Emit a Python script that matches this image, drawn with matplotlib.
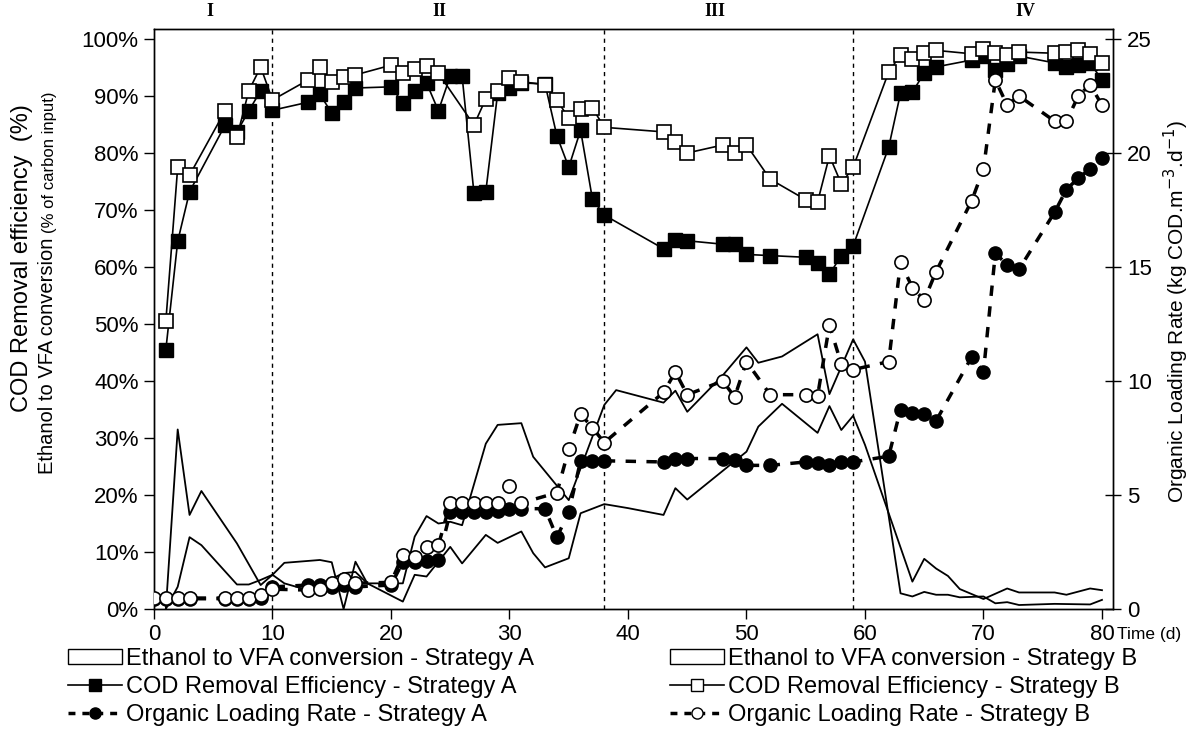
import numpy as np
import matplotlib
matplotlib.use("Agg")
import matplotlib.pyplot as plt
from matplotlib.lines import Line2D
from matplotlib.patches import Rectangle
from matplotlib.ticker import PercentFormatter

plt.rcParams['font.family'] = ['Liberation Sans', 'DejaVu Sans']

# --- data ---
# COD removal efficiency (%)
cod_a_days = [1, 2, 3, 6, 7, 8, 9, 10, 13, 14, 15, 16, 17, 20, 21, 22, 23, 24, 25, 26, 27, 28, 29,
              30, 31, 33, 34, 35, 36, 37, 38, 43, 44, 45, 48, 49, 50, 52, 55, 56, 57, 58, 59,
              62, 63, 64, 65, 66, 69, 70, 71, 72, 73, 76, 77, 78, 79, 80]
cod_a = [45.5, 64.5, 73.2, 84.9, 83.7, 87.4, 90.9, 87.5, 88.9, 90.3, 87.0, 88.9, 91.4, 91.6, 88.8,
         90.9, 92.3, 87.4, 93.5, 93.5, 73.0, 73.2, 90.5, 91.4, 92.3, 92.1, 83.0, 77.5, 84.0, 71.9,
         69.1, 63.2, 64.8, 64.6, 64.0, 64.0, 62.2, 62.0, 61.7, 60.7, 58.7, 62.0, 63.7,
         81.0, 90.5, 90.7, 94.0, 95.1, 96.3, 97.0, 94.6, 95.6, 97.0, 95.8, 95.0, 95.5, 95.8, 92.8]
cod_b_days = [1, 2, 3, 6, 7, 8, 9, 10, 13, 14, 15, 16, 17, 20, 21, 22, 23, 24, 27, 28, 29,
              30, 31, 33, 34, 35, 36, 37, 38, 43, 44, 45, 48, 49, 50, 52, 55, 56, 57, 58, 59,
              62, 63, 64, 65, 66, 69, 70, 71, 72, 73, 76, 77, 78, 79, 80]
cod_b = [50.5, 77.5, 76.1, 87.4, 82.8, 90.9, 95.1, 89.3, 92.8, 95.1, 92.5, 93.4, 93.7, 95.4, 94.1,
         94.7, 95.3, 94.0, 84.9, 89.5, 90.9, 93.2, 92.5, 92.0, 89.3, 86.1, 87.7, 87.9, 84.5,
         83.7, 81.9, 80.0, 81.4, 80.0, 81.4, 75.4, 71.8, 71.4, 79.5, 74.6, 77.5,
         94.2, 97.2, 96.5, 97.5, 98.0, 97.4, 98.2, 97.5, 97.2, 97.7, 97.5, 97.8, 98.0, 97.3, 95.8]

# Ethanol to VFA conversion (% of carbon input)
eth_a_days = [1, 2, 3, 4, 7, 9, 10, 11, 14, 15, 16, 17, 18, 21, 22, 23, 24, 25, 26, 28, 29, 31,
              32, 35, 38, 39, 43, 44, 45, 48, 50, 51, 53, 56, 57, 59, 60, 63, 64, 65, 66, 67,
              68, 70, 71, 72, 73, 76, 79, 80]
eth_a = [0.0, 31.5, 16.5, 20.7, 11.5, 4.2, 6.0, 8.1, 8.6, 8.2, 0.0, 8.3, 4.5, 4.5, 12.7, 16.3,
         15.0, 15.3, 14.7, 29.0, 32.3, 32.6, 26.7, 19.1, 35.8, 38.4, 36.2, 38.3, 34.6, 41.0,
         45.9, 43.2, 44.3, 48.2, 37.7, 47.3, 43.4, 2.75, 2.2, 3.0, 2.5, 2.5, 2.05, 2.2, 1.0,
         1.2, 0.7, 0.9, 0.8, 1.6]
eth_b_days = [1, 2, 3, 4, 7, 8, 9, 10, 11, 13, 16, 17, 18, 21, 22, 23, 25, 26, 28, 29, 31, 32,
              33, 35, 36, 38, 40, 43, 44, 45, 50, 51, 53, 56, 57, 58, 59, 60, 64, 65, 66, 67,
              68, 70, 72, 73, 76, 77, 79, 80]
eth_b = [0.0, 3.9, 12.6, 11.2, 4.3, 4.3, 5.1, 6.0, 4.5, 3.3, 6.3, 6.5, 4.5, 1.3, 6.0, 5.7, 10.9,
         8.0, 13.0, 11.6, 13.6, 9.8, 7.3, 8.9, 16.8, 18.4, 17.7, 16.5, 21.2, 19.2, 27.6, 32.0,
         36.0, 30.9, 35.6, 31.4, 33.9, 28.8, 4.8, 8.8, 7.1, 5.8, 3.5, 1.75, 3.6, 2.9, 2.9, 2.5,
         3.6, 3.3]

# Organic loading rate (kg COD m-3 d-1)
olr_a_days = [0, 1, 2, 3, 6, 7, 8, 9, 10, 13, 14, 15, 16, 17, 20, 21, 22, 23, 24, 25, 26, 27, 28,
              29, 30, 31, 33, 34, 35, 36, 37, 38, 43, 44, 45, 48, 49, 50, 52, 55, 56, 57, 58, 59,
              62, 63, 64, 65, 66, 69, 70, 71, 72, 73, 76, 77, 78, 79, 80]
olr_a = [0.45, 0.45, 0.45, 0.45, 0.45, 0.45, 0.45, 0.48, 0.97, 1.05, 1.05, 0.97, 1.05, 0.97,
         1.05, 2.06, 2.06, 2.1, 2.15, 4.25, 4.25, 4.25, 4.25, 4.3, 4.4, 4.4, 4.4, 3.15, 4.25,
         6.5, 6.5, 6.5, 6.45, 6.6, 6.6, 6.6, 6.55, 6.3, 6.3, 6.45, 6.4, 6.3, 6.45, 6.45,
         6.7, 8.75, 8.6, 8.55, 8.25, 11.05, 10.4, 15.6, 15.1, 14.9, 17.4, 18.4, 18.9, 19.3, 19.8]
olr_b_days = [0, 1, 2, 3, 6, 7, 8, 9, 10, 13, 14, 15, 16, 17, 20, 21, 22, 23, 24, 25, 26, 27, 28,
              29, 30, 31, 34, 35, 36, 37, 38, 43, 44, 45, 48, 49, 50, 52, 55, 56, 57, 58, 59,
              62, 63, 64, 65, 66, 69, 70, 71, 72, 73, 76, 77, 78, 79, 80]
olr_b = [0.48, 0.48, 0.48, 0.48, 0.48, 0.48, 0.48, 0.6, 0.87, 0.83, 0.87, 1.13, 1.3, 1.13, 1.17,
         2.37, 2.3, 2.7, 2.8, 4.65, 4.65, 4.65, 4.65, 4.65, 5.4, 4.65, 5.1, 7.0, 8.55, 7.95,
         7.3, 9.5, 10.4, 9.4, 10.0, 9.3, 10.85, 9.4, 9.4, 9.35, 12.45, 10.75, 10.5,
         10.85, 15.2, 14.1, 13.55, 14.8, 17.9, 19.3, 23.2, 22.1, 22.5, 21.4, 21.4, 22.5, 23.0, 22.1]

phase_bounds = [10, 38, 59]
phase_names = ['I', 'II', 'III', 'IV']
phase_pos = [4.7, 24.1, 47.3, 73.5]

# --- plot ---
fig = plt.figure(figsize=(12.02, 7.47), dpi=100)
ax = fig.add_axes([154 / 1202, 1 - 609 / 747, (1113 - 154) / 1202, (609 - 29) / 747])
ax2 = ax.twinx()

# ethanol conversion bands (outline only)
ax.plot(eth_a_days, np.array(eth_a) / 100, color='black', lw=1.3, zorder=2)
ax.plot(eth_b_days, np.array(eth_b) / 100, color='black', lw=1.3, zorder=2)

for b in phase_bounds:
    ax.axvline(b, color='black', lw=1.0, ls=(0, (3, 3)), zorder=1)

ax.plot(cod_a_days, np.array(cod_a) / 100, color='black', lw=1.2, marker='s', ms=10,
        mfc='black', mec='black', zorder=4)
ax.plot(cod_b_days, np.array(cod_b) / 100, color='black', lw=1.2, marker='s', ms=10,
        mfc='white', mec='black', mew=1.2, zorder=5)

olr_ls = (0, (3, 3))
ax2.plot(olr_a_days, olr_a, color='black', lw=2.5, ls=olr_ls, marker='o', ms=9.5,
         mfc='black', mec='black', zorder=4)
ax2.plot(olr_b_days, olr_b, color='black', lw=2.5, ls=olr_ls, marker='o', ms=9.5,
         mfc='white', mec='black', mew=1.2, zorder=5)

ax.set_xlim(0, 80.93)
ax.set_ylim(0, 1.0175)
ax2.set_ylim(0, 25.44)
ax.set_xticks(range(0, 81, 10))
ax.set_yticks(np.arange(0, 1.01, 0.1))
ax.yaxis.set_major_formatter(PercentFormatter(1.0, decimals=0))
ax2.set_yticks(range(0, 26, 5))
ax.tick_params(axis='both', direction='out', length=7, width=1, labelsize=16, pad=4)
ax2.tick_params(axis='y', direction='inout', length=12, width=1, labelsize=16, pad=4)
for a in (ax, ax2):
    for s in a.spines.values():
        s.set_linewidth(1.0)

for name, xp in zip(phase_names, phase_pos):
    ax.text(xp, 1.0175 - 0.002, name, transform=ax.get_xaxis_transform(), ha='center',
            va='bottom', fontsize=13, fontweight='bold', family='Liberation Serif')

# axis labels
fig.text(22 / 1202, 1 - 258 / 747, 'COD Removal efficiency  (%)', rotation=90,
         ha='center', va='center', fontsize=17)
fig.text(48 / 1202, 1 - 474 / 747, 'Ethanol to VFA conversion', rotation=90,
         ha='center', va='bottom', fontsize=14.5)
fig.text(50 / 1202, 1 - 233 / 747, '(% of carbon input)', rotation=90,
         ha='center', va='bottom', fontsize=12)
fig.text(1176 / 1202, 1 - 312 / 747, 'Organic Loading Rate (kg COD.m$^{-3}$.d$^{-1}$)',
         rotation=90, ha='center', va='center', fontsize=15)
fig.text(1117 / 1202, 1 - 634 / 747, 'Time (d)', ha='left', va='center', fontsize=12.5)

# legends
h_eth = Rectangle((0, 0), 1, 1, fc='white', ec='black', lw=1.0)
h_cod_a = Line2D([], [], color='black', lw=1.2, marker='s', ms=8, mfc='black', mec='black')
h_cod_b = Line2D([], [], color='black', lw=1.2, marker='s', ms=8, mfc='white', mec='black')
h_olr_a = Line2D([], [], color='black', lw=2.5, ls=(0, (2, 2)), marker='o', ms=8, mfc='black',
                 mec='black')
h_olr_b = Line2D([], [], color='black', lw=2.5, ls=(0, (2, 2)), marker='o', ms=8, mfc='white',
                 mec='black')
leg_kw = dict(frameon=False, fontsize=17, handlelength=2.3, handleheight=0.6,
              handletextpad=0.15, labelspacing=0.25, borderpad=0, borderaxespad=0,
              loc='upper left')
fig.legend([h_eth, h_cod_a, h_olr_a],
           ['Ethanol to VFA conversion - Strategy A', 'COD Removal Efficiency - Strategy A',
            'Organic Loading Rate - Strategy A'],
           bbox_to_anchor=(68 / 1202, 1 - 648 / 747), **leg_kw)
fig.legend([h_eth, h_cod_b, h_olr_b],
           ['Ethanol to VFA conversion - Strategy B', 'COD Removal Efficiency - Strategy B',
            'Organic Loading Rate - Strategy B'],
           bbox_to_anchor=(670 / 1202, 1 - 648 / 747), **leg_kw)

fig.savefig('out.png', dpi=100)
